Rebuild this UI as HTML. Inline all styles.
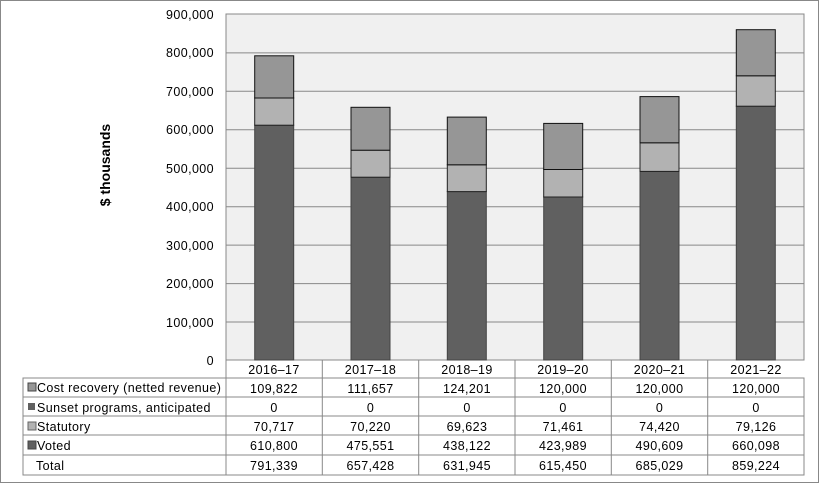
<!DOCTYPE html>
<html><head><style>
body{margin:0;background:#fff}
svg text{font-family:"Liberation Sans",Arial,sans-serif;font-size:12.5px;letter-spacing:0.4px;fill:#000}
</style></head><body>
<svg width="819" height="483" xmlns="http://www.w3.org/2000/svg">
<rect x="0.5" y="0.5" width="818" height="482" fill="#fff" stroke="#888"/>
<rect x="226" y="14" width="578" height="346" fill="#f0f0f0" stroke="#888"/>
<g stroke="#888" stroke-width="1">
<line x1="226" x2="804" y1="52.9" y2="52.9"/><line x1="226" x2="804" y1="91.3" y2="91.3"/>
<line x1="226" x2="804" y1="129.8" y2="129.8"/><line x1="226" x2="804" y1="168.2" y2="168.2"/>
<line x1="226" x2="804" y1="206.7" y2="206.7"/><line x1="226" x2="804" y1="245.1" y2="245.1"/>
<line x1="226" x2="804" y1="283.6" y2="283.6"/><line x1="226" x2="804" y1="322" y2="322"/>
</g>
<g text-anchor="end">
<text x="214" y="19">900,000</text><text x="214" y="57">800,000</text><text x="214" y="96">700,000</text>
<text x="214" y="134">600,000</text><text x="214" y="173">500,000</text><text x="214" y="211">400,000</text>
<text x="214" y="250">300,000</text><text x="214" y="288">200,000</text><text x="214" y="327">100,000</text>
<text x="214" y="365">0</text>
</g>
<text transform="translate(110,165) rotate(-90)" text-anchor="middle" style="font-weight:bold;font-size:14px;letter-spacing:0">$ thousands</text>
<g>
<rect x="254.7" y="125.2" width="39" height="234.8" fill="#606060" stroke="#444"/>
<rect x="254.7" y="98" width="39" height="27.2" fill="#b2b2b2" stroke="#222"/>
<rect x="254.7" y="55.8" width="39" height="42.2" fill="#969696" stroke="#111"/>

<rect x="351" y="177.2" width="39" height="182.8" fill="#606060" stroke="#444"/>
<rect x="351" y="150.2" width="39" height="27" fill="#b2b2b2" stroke="#222"/>
<rect x="351" y="107.3" width="39" height="42.9" fill="#969696" stroke="#111"/>

<rect x="447.3" y="191.6" width="39" height="168.4" fill="#606060" stroke="#444"/>
<rect x="447.3" y="164.8" width="39" height="26.8" fill="#b2b2b2" stroke="#222"/>
<rect x="447.3" y="117.1" width="39" height="47.7" fill="#969696" stroke="#111"/>

<rect x="543.7" y="197" width="39" height="163" fill="#606060" stroke="#444"/>
<rect x="543.7" y="169.5" width="39" height="27.5" fill="#b2b2b2" stroke="#222"/>
<rect x="543.7" y="123.4" width="39" height="46.1" fill="#969696" stroke="#111"/>

<rect x="640" y="171.4" width="39" height="188.6" fill="#606060" stroke="#444"/>
<rect x="640" y="142.8" width="39" height="28.6" fill="#b2b2b2" stroke="#222"/>
<rect x="640" y="96.6" width="39" height="46.2" fill="#969696" stroke="#111"/>

<rect x="736.3" y="106.2" width="39" height="253.8" fill="#606060" stroke="#444"/>
<rect x="736.3" y="75.8" width="39" height="30.4" fill="#b2b2b2" stroke="#222"/>
<rect x="736.3" y="29.7" width="39" height="46.1" fill="#969696" stroke="#111"/>
</g>
<g stroke="#888" fill="none">
<rect x="23" y="378" width="781" height="97"/>
<line x1="226" x2="226" y1="360" y2="475"/>
<line x1="322.3" x2="322.3" y1="360" y2="475"/><line x1="418.7" x2="418.7" y1="360" y2="475"/>
<line x1="515" x2="515" y1="360" y2="475"/><line x1="611.3" x2="611.3" y1="360" y2="475"/>
<line x1="707.7" x2="707.7" y1="360" y2="475"/>
<line x1="23" x2="804" y1="397" y2="397"/><line x1="23" x2="804" y1="416" y2="416"/>
<line x1="23" x2="804" y1="435" y2="435"/><line x1="23" x2="804" y1="455" y2="455"/>
</g>
<rect x="28" y="383" width="8" height="8" fill="#969696" stroke="#444"/>
<rect x="28" y="403" width="7" height="7" fill="#606060"/>
<rect x="28" y="422" width="8" height="8" fill="#b2b2b2" stroke="#666"/>
<rect x="28" y="441" width="8" height="8" fill="#606060" stroke="#444"/>
<text x="37" y="392">Cost recovery (netted revenue)</text>
<text x="37" y="412">Sunset programs, anticipated</text>
<text x="37" y="431">Statutory</text>
<text x="37" y="450">Voted</text>
<text x="36" y="470">Total</text>
<g text-anchor="middle">
<text x="274" y="374">2016–17</text><text x="370.5" y="374">2017–18</text><text x="467" y="374">2018–19</text><text x="563" y="374">2019–20</text><text x="659.5" y="374">2020–21</text><text x="756" y="374">2021–22</text>
<text x="274" y="393">109,822</text><text x="370.5" y="393">111,657</text><text x="467" y="393">124,201</text><text x="563" y="393">120,000</text><text x="659.5" y="393">120,000</text><text x="756" y="393">120,000</text>
<text x="274" y="412">0</text><text x="370.5" y="412">0</text><text x="467" y="412">0</text><text x="563" y="412">0</text><text x="659.5" y="412">0</text><text x="756" y="412">0</text>
<text x="274" y="431">70,717</text><text x="370.5" y="431">70,220</text><text x="467" y="431">69,623</text><text x="563" y="431">71,461</text><text x="659.5" y="431">74,420</text><text x="756" y="431">79,126</text>
<text x="274" y="450">610,800</text><text x="370.5" y="450">475,551</text><text x="467" y="450">438,122</text><text x="563" y="450">423,989</text><text x="659.5" y="450">490,609</text><text x="756" y="450">660,098</text>
<text x="274" y="470">791,339</text><text x="370.5" y="470">657,428</text><text x="467" y="470">631,945</text><text x="563" y="470">615,450</text><text x="659.5" y="470">685,029</text><text x="756" y="470">859,224</text>
</g>
</svg>
</body></html>
